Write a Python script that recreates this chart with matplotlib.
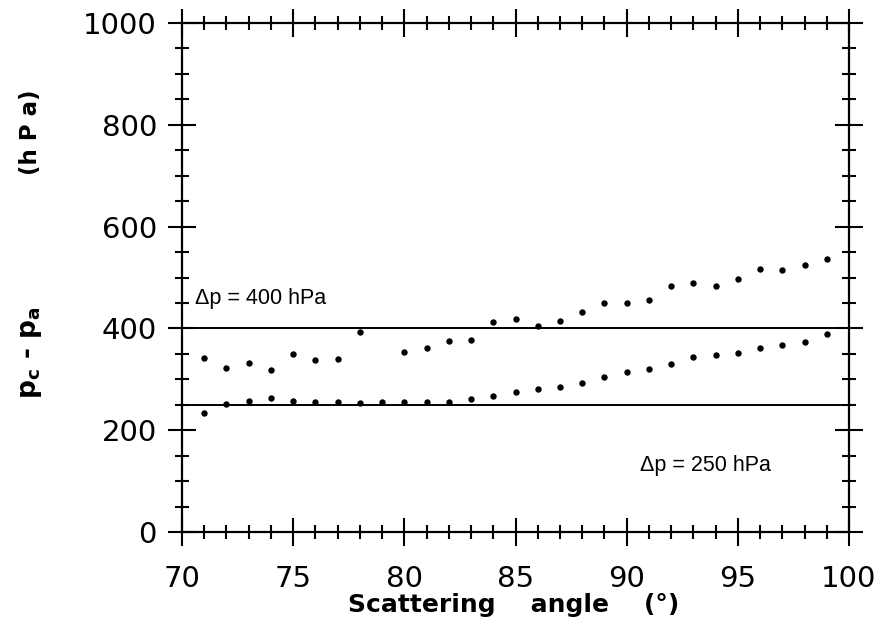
import numpy as np
import matplotlib
matplotlib.use("Agg")
import matplotlib.pyplot as plt
from matplotlib.ticker import MultipleLocator

# Scattering angle (degrees)
angles = np.arange(71, 100)

# Upper sequence of p_c - p_a values (hPa); no value at 79 degrees
upper = [341, 322, 332, 319, 350, 337, 339, 393, np.nan, 353, 361, 375, 377, 412,
         418, 404, 414, 433, 450, 450, 456, 484, 489, 483, 497, 516, 515, 525, 536]

# Lower sequence of p_c - p_a values (hPa)
lower = [234, 251, 258, 263, 257, 255, 256, 254, 255, 256, 256, 256, 261, 267,
         275, 281, 285, 293, 305, 314, 321, 330, 343, 347, 352, 361, 367, 373, 389]

# Reference pressure differences (hPa)
delta_p = [400, 250]
delta_labels = ["Δp = 400 hPa", "Δp = 250 hPa"]

x_ticks = [70, 75, 80, 85, 90, 95, 100]
y_ticks = [0, 200, 400, 600, 800, 1000]

W, H = 889, 629
fig = plt.figure(figsize=(W / 100, H / 100), dpi=100)
ax = fig.add_axes([182 / W, 1 - 532 / H, (849 - 182) / W, (532 - 23) / H])

ax.plot(angles, upper, "o", color="black", markersize=4.6, markeredgewidth=0)
ax.plot(angles, lower, "o", color="black", markersize=4.6, markeredgewidth=0)

for dp in delta_p:
    ax.axhline(dp, color="black", linewidth=1.4)

ax.text(70.6, 458, delta_labels[0], fontsize=15.5, family="Liberation Sans",
        ha="left", va="center")
ax.text(90.6, 131, delta_labels[1], fontsize=15.5, family="Liberation Sans",
        ha="left", va="center")

ax.set_xlim(70, 100)
ax.set_ylim(0, 1000)
ax.set_xticks(x_ticks)
ax.set_yticks(y_ticks)
ax.xaxis.set_minor_locator(MultipleLocator(1))
ax.yaxis.set_minor_locator(MultipleLocator(50))

for s in ax.spines.values():
    s.set_linewidth(1.6)

ax.tick_params(which="both", direction="inout", top=True, right=True,
               width=1.5, labelsize=21, colors="black")
ax.tick_params(which="major", length=20)
ax.tick_params(which="minor", length=10)
ax.tick_params(axis="x", which="major", pad=14)
ax.tick_params(axis="y", which="major", pad=8)
for lab in ax.get_xticklabels() + ax.get_yticklabels():
    lab.set_family("DejaVu Sans")

fig.text(514 / W, 1 - 605 / H, "Scattering    angle    (°)", fontsize=18,
         fontweight="bold", ha="center", va="center")
fig.text(31 / W, 1 - 353 / H, r"$\mathbf{p_c}$ - $\mathbf{p_a}$", fontsize=19,
         fontweight="bold", rotation=90, ha="center", va="center")
fig.text(31 / W, 1 - 132 / H, "(h P a)", fontsize=16.5,
         fontweight="bold", rotation=90, ha="center", va="center")

fig.savefig("out.png", dpi=100, facecolor="white")
